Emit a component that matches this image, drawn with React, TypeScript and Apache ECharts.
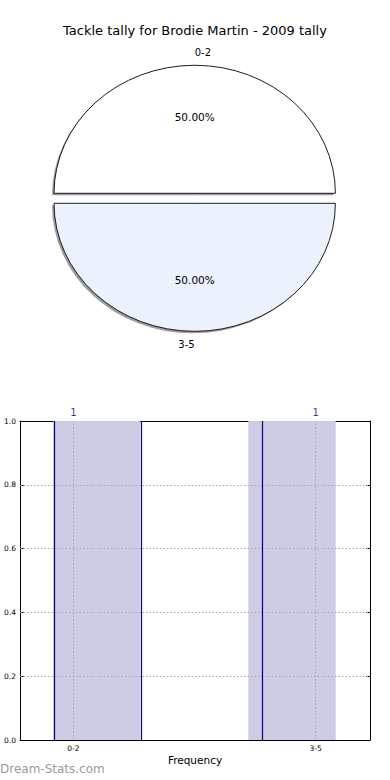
import React, { useEffect, useRef } from 'react';
import * as echarts from 'echarts';

const TITLE = 'Tackle tally for Brodie Martin - 2009 tally';
const pieCategories = ['0-2', '3-5'];
const pieValues = [1, 1];
const pieColors = ['#ffffff', '#ebf1fd'];

const histCategories = ['0-2', '3-5'];
const histTickPositions = [0, 1];
const histCounts = [1, 1];
const barStarts = [-0.0825, 0.722];
const barEnds = [0.276, 1.0825];
const barEdgeLines = [-0.0825, 0.276, 0.776];
const gridYValues = [0.2, 0.4, 0.6, 0.8];
const X_LABEL = 'Frequency';
const WATERMARK = 'Dream-Stats.com';

const FONT = 'DejaVu Sans';

export default function App() {
  const ref = useRef<HTMLDivElement>(null);

  useEffect(() => {
    if (!ref.current) return;
    const chart = echarts.init(ref.current, undefined, { renderer: 'svg' });

    const cx = 194.7;
    const cy = 198.3;
    const rx = 140.7;
    const ry = 128;
    const explodePx = 5;
    const total = pieValues.reduce((a, b) => a + b, 0);

    const pieRender = (params: any, api: any) => {
      const i = params.dataIndex;
      const v = api.value(0);
      let start = 0;
      for (let j = 0; j < i; j++) start += pieValues[j];
      const a0 = (start / total) * Math.PI * 2;
      const a1 = ((start + v) / total) * Math.PI * 2;
      const mid = (a0 + a1) / 2;
      const c = Math.cos(mid);
      const s = Math.sin(mid);
      const ox = cx + (explodePx / ry) * rx * c;
      const oy = cy - explodePx * s;
      const k = ry / rx;
      const shape = { cx: 0, cy: 0, r: rx, r0: 0, startAngle: -a1, endAngle: -a0, clockwise: true };
      const pct = ((v / total) * 100).toFixed(2) + '%';
      return {
        type: 'group',
        children: [
          {
            type: 'group',
            x: ox - 2,
            y: oy + 2,
            scaleY: k,
            children: [{ type: 'sector', shape, style: { fill: 'rgba(60,60,60,0.5)' } }],
          },
          {
            type: 'group',
            x: ox,
            y: oy,
            scaleY: k,
            children: [
              {
                type: 'sector',
                shape,
                style: { fill: pieColors[i], stroke: '#111', lineWidth: 1, strokeNoScale: true },
              },
            ],
          },
          {
            type: 'text',
            x: ox + 0.6 * rx * c,
            y: oy - 0.6 * ry * s,
            style: {
              text: pct,
              align: 'center',
              verticalAlign: 'middle',
              fontSize: 10.5,
              fontFamily: FONT,
              fill: '#000',
            },
          },
          {
            type: 'text',
            x: ox + 1.1 * rx * c,
            y: oy - 1.1 * ry * s,
            style: {
              text: pieCategories[i],
              align: c > 0 ? 'left' : 'right',
              verticalAlign: 'middle',
              fontSize: 10,
              fontFamily: FONT,
              fill: '#000',
            },
          },
        ],
      };
    };

    const barRender = (params: any, api: any) => {
      const p0 = api.coord([api.value(0), 0]);
      const p1 = api.coord([api.value(1), api.value(2)]);
      return {
        type: 'rect',
        shape: { x: p0[0], y: p1[1], width: p1[0] - p0[0], height: p0[1] - p1[1] },
        style: { fill: '#ccccE5' },
      };
    };

    const gridLineStyle = { color: '#a8a8a8', width: 1, type: [1.5, 2] as any };

    const axisCommon = {
      axisLine: { show: true, onZero: false, lineStyle: { color: '#000', width: 1 } },
      splitLine: { show: false },
    };

    const option: any = {
      animation: false,
      textStyle: { fontFamily: FONT },
      title: {
        text: TITLE,
        left: 'center',
        top: 19,
        textStyle: { fontSize: 13, fontWeight: 'normal', color: '#000', fontFamily: FONT },
      },
      grid: { left: 20, right: 20, top: 421, bottom: 40, containLabel: false, outerBoundsMode: 'none' },
      xAxis: [
        {
          type: 'value',
          position: 'bottom',
          min: -0.22,
          max: 1.224,
          ...axisCommon,
          axisTick: { show: true, inside: true, length: 4, customValues: histTickPositions, lineStyle: { color: '#000' } },
          axisLabel: {
            customValues: histTickPositions,
            formatter: (val: number) => {
              const idx = histTickPositions.indexOf(Math.round(val * 1000) / 1000);
              return idx >= 0 ? histCategories[idx] : '';
            },
            fontSize: 7.5,
            color: '#000',
            margin: 4,
            fontFamily: FONT,
          },
          name: X_LABEL,
          nameLocation: 'middle',
          nameGap: 14,
          nameTextStyle: { fontSize: 10.5, color: '#000', fontFamily: FONT },
        },
        {
          type: 'value',
          position: 'top',
          min: -0.22,
          max: 1.224,
          ...axisCommon,
          axisTick: { show: true, inside: true, length: 4, customValues: histTickPositions, lineStyle: { color: '#000' } },
          axisLabel: { show: false },
        },
      ],
      yAxis: [
        {
          type: 'value',
          position: 'left',
          min: 0,
          max: 1,
          interval: 0.2,
          ...axisCommon,
          axisTick: { show: true, inside: true, length: 4, lineStyle: { color: '#000' } },
          axisLabel: {
            formatter: (val: number) => val.toFixed(1),
            fontSize: 7.5,
            color: '#000',
            margin: 4,
            fontFamily: FONT,
          },
        },
        {
          type: 'value',
          position: 'right',
          min: 0,
          max: 1,
          interval: 0.2,
          ...axisCommon,
          axisTick: { show: true, inside: true, length: 4, lineStyle: { color: '#000' } },
          axisLabel: { show: false },
        },
      ],
      graphic: [
        {
          type: 'text',
          left: 0,
          top: 763,
          style: { text: WATERMARK, fontSize: 12, fontFamily: FONT, fill: '#9a9a9a' },
        },
      ],
      series: [
        {
          type: 'custom',
          name: 'pie',
          coordinateSystem: 'none',
          renderItem: pieRender,
          data: pieValues,
          silent: true,
        },
        {
          type: 'custom',
          name: 'bars',
          xAxisIndex: 0,
          yAxisIndex: 0,
          renderItem: barRender,
          encode: { x: [0, 1], y: 2 },
          data: barStarts.map((s, i) => [s, barEnds[i], histCounts[i]]),
          z: 2,
          silent: true,
        },
        {
          type: 'scatter',
          name: 'counts',
          xAxisIndex: 0,
          yAxisIndex: 0,
          symbolSize: 0,
          z: 5,
          silent: true,
          data: histTickPositions.map((x, i) => [x, histCounts[i]]),
          label: {
            show: true,
            position: 'top',
            distance: 4,
            formatter: (p: any) => String(p.value[1]),
            color: '#000080',
            fontSize: 10,
            fontFamily: FONT,
          },
          markLine: {
            silent: true,
            symbol: ['none', 'none'],
            label: { show: false },
            animation: false,
            data: [
              ...gridYValues.map((y) => ({ yAxis: y, lineStyle: gridLineStyle })),
              ...histTickPositions.map((x) => ({ xAxis: x, lineStyle: gridLineStyle })),
              ...barEdgeLines.map((x) => ({ xAxis: x, lineStyle: { color: '#000080', width: 1.2, type: 'solid' } })),
            ],
          },
        },
      ],
    };

    chart.setOption(option);
    return () => chart.dispose();
  }, []);

  return <div ref={ref} style={{ position: 'absolute', left: 0, top: 0, width: 390, height: 780 }} />;
}
